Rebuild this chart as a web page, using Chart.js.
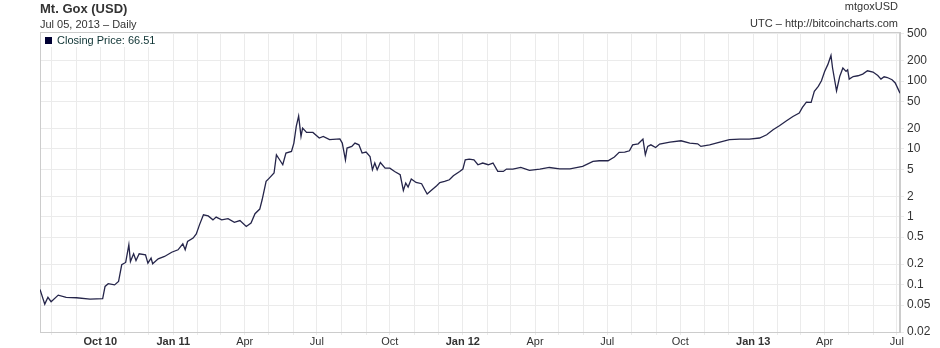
<!DOCTYPE html>
<html>
<head>
<meta charset="utf-8">
<title>Mt. Gox (USD)</title>
<script src="https://cdn.jsdelivr.net/npm/chart.js@4/dist/chart.umd.min.js"></script>
<style>
  html, body { margin: 0; padding: 0; background: #fff; }
  #wrap { width: 940px; height: 348px; }
</style>
</head>
<body>
<div id="wrap"><canvas id="chart"></canvas></div>
<script>
// Daily close, mtgoxUSD
const dates = [
  '2010-07-17','2010-07-23','2010-07-27','2010-07-31','2010-08-09','2010-08-19','2010-09-01','2010-09-18',
  '2010-10-04','2010-10-07','2010-10-11','2010-10-19','2010-10-24','2010-10-28','2010-11-02','2010-11-06',
  '2010-11-08','2010-11-12','2010-11-15','2010-11-19','2010-11-27','2010-11-30','2010-12-04','2010-12-06',
  '2010-12-13','2010-12-21','2010-12-30','2011-01-07','2011-01-13','2011-01-16','2011-01-19','2011-01-26',
  '2011-01-30','2011-02-03','2011-02-08','2011-02-14','2011-02-20','2011-02-24','2011-03-03','2011-03-11',
  '2011-03-19','2011-03-26','2011-04-03','2011-04-09','2011-04-14','2011-04-20','2011-04-23','2011-04-28',
  '2011-05-02','2011-05-08','2011-05-11','2011-05-15','2011-05-19','2011-05-23','2011-05-30','2011-06-02',
  '2011-06-05','2011-06-08','2011-06-11','2011-06-13','2011-06-18','2011-06-26','2011-07-04','2011-07-09',
  '2011-07-17','2011-07-30','2011-08-02','2011-08-06','2011-08-08','2011-08-14','2011-08-18','2011-08-23',
  '2011-08-27','2011-09-01','2011-09-06','2011-09-09','2011-09-12','2011-09-15','2011-09-19','2011-09-25',
  '2011-10-01','2011-10-07','2011-10-14','2011-10-18','2011-10-21','2011-10-24','2011-10-28','2011-11-03',
  '2011-11-10','2011-11-14','2011-11-17','2011-11-22','2011-11-29','2011-12-03','2011-12-09','2011-12-15',
  '2011-12-20','2011-12-28','2012-01-01','2012-01-04','2012-01-09','2012-01-15','2012-01-20','2012-01-26',
  '2012-02-02','2012-02-08','2012-02-14','2012-02-21','2012-02-25','2012-03-04','2012-03-14','2012-03-25',
  '2012-04-07','2012-04-19','2012-05-02','2012-05-15','2012-05-31','2012-06-13','2012-06-21','2012-07-02',
  '2012-07-10','2012-07-16','2012-07-23','2012-07-29','2012-08-02','2012-08-09','2012-08-15','2012-08-18',
  '2012-08-21','2012-08-25','2012-08-31','2012-09-05','2012-09-18','2012-10-02','2012-10-13','2012-10-23',
  '2012-10-27','2012-11-07','2012-11-20','2012-12-02','2012-12-15','2012-12-27','2013-01-09','2013-01-18',
  '2013-01-26','2013-02-03','2013-02-12','2013-02-20','2013-02-28','2013-03-04','2013-03-09','2013-03-15',
  '2013-03-19','2013-03-24','2013-03-28','2013-04-01','2013-04-05','2013-04-09','2013-04-11','2013-04-16',
  '2013-04-20','2013-04-24','2013-04-28','2013-04-30','2013-05-02','2013-05-07','2013-05-13','2013-05-19',
  '2013-05-25','2013-06-01','2013-06-07','2013-06-11','2013-06-15','2013-06-19','2013-06-25','2013-06-29',
  '2013-07-05'
];
const closes = [
  0.085, 0.0515, 0.065, 0.056, 0.07, 0.065, 0.064, 0.061,
  0.062, 0.094, 0.103, 0.099, 0.111, 0.196, 0.212, 0.386,
  0.219, 0.285, 0.227, 0.285, 0.275, 0.207, 0.246, 0.203,
  0.24, 0.26, 0.30, 0.326, 0.40, 0.326, 0.432, 0.485,
  0.56, 0.76, 1.07, 1.03, 0.90, 0.99, 0.90, 0.94,
  0.83, 0.88, 0.72, 0.81, 1.11, 1.30, 1.78, 3.32,
  3.72, 4.41, 8.2, 6.93, 5.85, 8.7, 9.2, 12.2,
  21.5, 30.5, 15.3, 20.3, 17.5, 17.5, 14.5, 15.3,
  13.7, 14.1, 12.2, 6.9, 10.3, 10.9, 12.2, 11.5,
  8.7, 9.0, 7.75, 4.93, 6.2, 4.93, 6.3, 5.2,
  5.2, 4.66, 4.16, 2.44, 3.14, 2.74, 3.6, 3.2,
  3.07, 2.5, 2.16, 2.44, 2.87, 3.2, 3.32, 3.51,
  4.03, 4.66, 5.05, 6.93, 7.1, 6.93, 5.85, 6.2,
  5.85, 6.2, 4.66, 4.66, 5.05, 5.05, 5.33, 4.82,
  5.05, 5.33, 5.1, 5.1, 5.52, 6.54, 6.7, 6.7,
  7.6, 8.9, 9.0, 9.4, 11.5, 11.9, 14.0, 8.2,
  10.9, 11.5, 10.5, 11.8, 12.6, 13.2, 12.2, 11.9,
  10.9, 11.5, 12.6, 13.7, 14.0, 14.0, 14.5, 16.2,
  19.2, 22, 26, 30.1, 33.8, 41, 49, 48.6,
  70.5, 83.6, 101, 139, 175, 239, 156, 72,
  117, 156, 139, 147, 107, 117, 120, 127,
  142, 136, 121, 107, 116, 113, 105, 94,
  66.51
];
const yTicks = [0.02, 0.05, 0.1, 0.2, 0.5, 1, 2, 5, 10, 20, 50, 100, 200, 500];
const monthNames = ['Jan','Feb','Mar','Apr','May','Jun','Jul','Aug','Sep','Oct','Nov','Dec'];

const FONT = "'Liberation Sans', Arial, sans-serif";
const xMin = Date.parse('2010-07-17');
const xMax = Date.parse('2013-07-05');

// month starts for the vertical grid
const monthTicks = [];
for (let y = 2010, m = 7; Date.UTC(y, m, 1) <= xMax; m++) {
  if (m > 11) { m = 0; y++; }
  monthTicks.push(Date.UTC(y, m, 1));
}
const firstQuarter = monthTicks.find(v => new Date(v).getUTCMonth() % 3 === 0);

function isBoldTick(v) {
  const d = new Date(v);
  return d.getUTCMonth() === 0 || v === firstQuarter;
}

const decorations = {
  id: 'decorations',
  beforeDatasetsDraw(chart) {
    const { ctx, chartArea: a } = chart;
    ctx.save();
    ctx.strokeStyle = '#cccccc';
    ctx.lineWidth = 1;
    ctx.strokeRect(a.left + 0.5, a.top + 0.5, a.right - a.left - 1, a.bottom - a.top);
    ctx.restore();
  },
  afterDraw(chart) {
    const { ctx, chartArea: a } = chart;
    ctx.save();
    ctx.textBaseline = 'middle';
    ctx.fillStyle = '#333333';
    ctx.font = `bold 13px ${FONT}`;
    ctx.textAlign = 'left';
    ctx.fillText('Mt. Gox (USD)', 40, 9);
    ctx.font = `11px ${FONT}`;
    ctx.fillText('Jul 05, 2013 \u2013 Daily', 40, 25);
    ctx.textAlign = 'right';
    ctx.fillText('mtgoxUSD', 898, 7);
    ctx.fillText('UTC \u2013 http://bitcoincharts.com', 898, 24);

    // legend
    ctx.fillStyle = '#ffffff';
    ctx.fillRect(a.left + 1, a.top + 1, 112, 14);
    ctx.fillStyle = '#000033';
    ctx.fillRect(45, 37, 7, 7);
    ctx.fillStyle = '#0d3333';
    ctx.textAlign = 'left';
    ctx.font = `11px ${FONT}`;
    ctx.fillText('Closing Price: ' + closes[closes.length - 1], 57, 40.5);
    ctx.restore();
  }
};

new Chart(document.getElementById('chart'), {
  type: 'line',
  data: {
    datasets: [{
      data: dates.map((d, i) => ({ x: Date.parse(d), y: closes[i] })),
      borderColor: '#25254a',
      borderWidth: 1.3,
      pointRadius: 0,
      tension: 0,
      fill: false
    }]
  },
  options: {
    responsive: true,
    maintainAspectRatio: false,
    animation: false,
    layout: { padding: { top: 32, left: 40, right: 0, bottom: 0 } },
    plugins: { legend: { display: false }, tooltip: { enabled: false } },
    scales: {
      x: {
        type: 'linear',
        min: xMin,
        max: xMax,
        afterBuildTicks: s => { s.ticks = monthTicks.map(v => ({ value: v })); },
        afterFit: s => { s.height = 16; },
        grid: { color: '#ebebeb', tickLength: 3 },
        border: { color: '#cccccc' },
        ticks: {
          autoSkip: false,
          maxRotation: 0,
          padding: 0,
          color: '#333333',
          font: c => ({ family: FONT, size: 11, weight: c.tick && isBoldTick(c.tick.value) ? 'bold' : 'normal' }),
          callback: v => {
            const d = new Date(v);
            const m = d.getUTCMonth();
            if (m % 3 !== 0) return '';
            const name = monthNames[m];
            if (m === 0 || v === firstQuarter) return name + ' ' + String(d.getUTCFullYear()).slice(2);
            return name;
          }
        }
      },
      y: {
        type: 'logarithmic',
        position: 'right',
        min: 0.02,
        max: 530,
        afterBuildTicks: s => { s.ticks = yTicks.map(v => ({ value: v })); },
        afterFit: s => { s.width = 40; },
        grid: { color: '#ebebeb', tickLength: 4 },
        border: { color: '#cccccc' },
        ticks: {
          crossAlign: 'near',
          padding: 3,
          color: '#333333',
          font: { family: FONT, size: 12 },
          callback: v => String(v)
        }
      }
    }
  },
  plugins: [decorations]
});
</script>
</body>
</html>
